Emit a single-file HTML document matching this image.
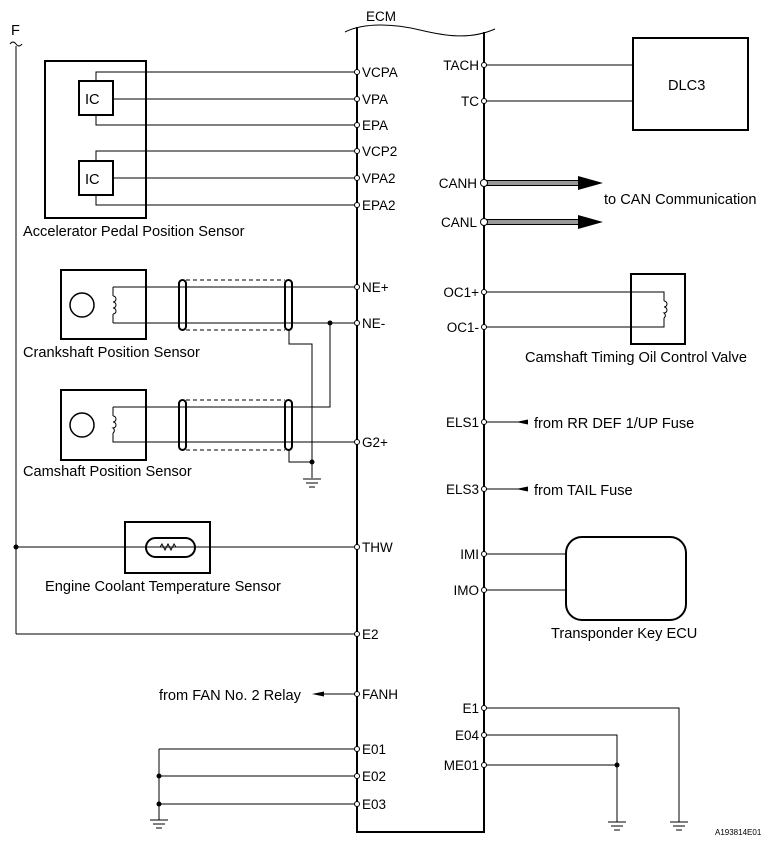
<!DOCTYPE html>
<html><head><meta charset="utf-8"><style>
html,body{margin:0;padding:0;background:#fff;}
svg{display:block;}
text{font-family:"Liberation Sans",Arial,sans-serif;font-size:13.5px;fill:#000;}
.d{font-size:14.6px;}
.l{stroke:#000;stroke-width:1;fill:none;}
.b{stroke:#000;stroke-width:2;fill:none;}
.p{stroke:#000;stroke-width:1;fill:#fff;}
</style></head><body>
<svg width="770" height="847" viewBox="0 0 770 847" xmlns="http://www.w3.org/2000/svg">
<text x="366" y="21">ECM</text>
<path class="l" d="M345 32 C365 22,395 24,420 30 S470 40,495 29"/>
<line class="b" x1="357" y1="27" x2="357" y2="832"/>
<line class="b" x1="484" y1="32" x2="484" y2="832"/>
<line class="b" x1="356" y1="832" x2="485" y2="832"/>
<text x="11" y="35" class="d">F</text>
<path class="l" d="M10 44 q3 -4 6 0 t6 0"/>
<line class="l" x1="16" y1="46" x2="16" y2="634"/>
<line class="l" x1="16" y1="634" x2="357" y2="634"/>
<line class="l" x1="16" y1="547" x2="357" y2="547"/>
<circle cx="16" cy="547" r="2.5" fill="#000"/>
<rect class="b" x="45" y="61" width="101" height="157"/>
<rect class="b" x="79" y="81" width="34" height="34"/>
<rect class="b" x="79" y="161" width="34" height="34"/>
<text x="85" y="104" class="d">IC</text><text x="85" y="184" class="d">IC</text>
<path class="l" d="M96 81 V72 H357 M113 99 H357 M96 115 V125 H357 M96 161 V151 H357 M113 178 H357 M96 195 V205 H357"/>
<text x="23" y="236" class="d">Accelerator Pedal Position Sensor</text>
<rect class="b" x="61" y="270" width="85" height="69"/>
<circle class="l" cx="82" cy="305" r="12" style="stroke-width:1.5"/>
<path class="l" d="M113 287 H357 M113 323 H357 M113 287 V296 M113 314 V323 M113 296 a3 3 0 0 1 0 6 a3 3 0 0 1 0 6 a3 3 0 0 1 0 6"/>
<rect class="b" x="179" y="280" width="7" height="50" rx="3.5"/>
<rect class="b" x="285" y="280" width="7" height="50" rx="3.5"/>
<path class="l" d="M186 280 H285 M186 330 H285" stroke-dasharray="4 3"/>
<text x="23" y="357" class="d">Crankshaft Position Sensor</text>
<circle cx="330" cy="323" r="2.5" fill="#000"/>
<path class="l" d="M330 323 V407 H113 M113 407 V416 M113 433 V442 H357 M113 416 a3 3 0 0 1 0 6 a3 3 0 0 1 0 6 a3 3 0 0 1 0 5"/>
<path class="l" d="M289 330 V344 H312 V478 M289 450 V462 H312"/>
<circle cx="312" cy="462" r="2.5" fill="#000"/>
<path class="l" d="M303 479 H321 M306 483 H318 M309 487 H315"/>
<rect class="b" x="61" y="390" width="85" height="70"/>
<circle class="l" cx="82" cy="425" r="12" style="stroke-width:1.5"/>
<rect class="b" x="179" y="400" width="7" height="50" rx="3.5"/>
<rect class="b" x="285" y="400" width="7" height="50" rx="3.5"/>
<path class="l" d="M186 400 H285 M186 450 H285" stroke-dasharray="4 3"/>
<text x="23" y="476" class="d">Camshaft Position Sensor</text>
<rect class="b" x="125" y="522" width="85" height="51"/>
<rect class="b" x="146" y="538" width="49" height="19" rx="9.5"/>
<path class="l" d="M156 547 h4 l2 -3 l3 6 l3 -6 l3 6 l3 -6 l2 3 h4"/>
<text x="45" y="591" class="d">Engine Coolant Temperature Sensor</text>
<text x="159" y="700" class="d">from FAN No. 2 Relay</text>
<line class="l" x1="316" y1="694" x2="357" y2="694"/>
<path d="M312 694 l12 -2.5 v5 z" fill="#000"/>
<path class="l" d="M159 749 H357 M159 776 H357 M159 804 H357 M159 749 V820"/>
<circle cx="159" cy="776" r="2.5" fill="#000"/><circle cx="159" cy="804" r="2.5" fill="#000"/>
<path class="l" d="M150 820 H168 M153 824 H165 M156 828 H162"/>
<g class="p">
<circle cx="357" cy="72" r="2.5"/><circle cx="357" cy="99" r="2.5"/><circle cx="357" cy="125" r="2.5"/>
<circle cx="357" cy="151" r="2.5"/><circle cx="357" cy="178" r="2.5"/><circle cx="357" cy="205" r="2.5"/>
<circle cx="357" cy="287" r="2.5"/><circle cx="357" cy="323" r="2.5"/><circle cx="357" cy="442" r="2.5"/>
<circle cx="357" cy="547" r="2.5"/><circle cx="357" cy="634" r="2.5"/><circle cx="357" cy="694" r="2.5"/>
<circle cx="357" cy="749" r="2.5"/><circle cx="357" cy="776" r="2.5"/><circle cx="357" cy="804" r="2.5"/>
</g>
<g>
<text x="362" y="77">VCPA</text><text x="362" y="104">VPA</text><text x="362" y="130">EPA</text>
<text x="362" y="156">VCP2</text><text x="362" y="183">VPA2</text><text x="362" y="210">EPA2</text>
<text x="362" y="292">NE+</text><text x="362" y="328">NE-</text><text x="362" y="447">G2+</text>
<text x="362" y="552">THW</text><text x="362" y="639">E2</text><text x="362" y="699">FANH</text>
<text x="362" y="754">E01</text><text x="362" y="781">E02</text><text x="362" y="809">E03</text>
</g>
<rect class="b" x="633" y="38" width="115" height="92"/>
<text x="668" y="90" class="d">DLC3</text>
<path class="l" d="M484 65 H633 M484 101 H633"/>
<path d="M484 180.5 H580 V185.5 H484 Z M484 219.5 H580 V224.5 H484 Z" fill="#999" stroke="#000" stroke-width="1"/>
<path d="M578 176 L603 183 L578 190 Z M578 215 L603 222 L578 229 Z" fill="#000"/>
<text x="604" y="204" class="d">to CAN Communication</text>
<rect class="b" x="631" y="274" width="54" height="70"/>
<path class="l" d="M484 292 H664 V301 M484 327 H664 V318 M664 301 a3 3 0 0 1 0 6 a3 3 0 0 1 0 6 a3 3 0 0 1 0 5"/>
<text x="525" y="362" class="d">Camshaft Timing Oil Control Valve</text>
<line class="l" x1="484" y1="422" x2="526" y2="422"/>
<path d="M516 422 l12 -2.5 v5 z" fill="#000"/>
<text x="534" y="428" class="d">from RR DEF 1/UP Fuse</text>
<line class="l" x1="484" y1="489" x2="526" y2="489"/>
<path d="M516 489 l12 -2.5 v5 z" fill="#000"/>
<text x="534" y="495" class="d">from TAIL Fuse</text>
<rect class="b" x="566" y="537" width="120" height="83" rx="16"/>
<path class="l" d="M484 554 H566 M484 590 H566"/>
<text x="551" y="638" class="d">Transponder Key ECU</text>
<path class="l" d="M484 708 H679 V822 M484 735 H617 V822 M484 765 H617"/>
<circle cx="617" cy="765" r="2.5" fill="#000"/>
<path class="l" d="M608 822 H626 M611 826 H623 M614 830 H620 M670 822 H688 M673 826 H685 M676 830 H682"/>
<g class="p">
<circle cx="484" cy="65" r="2.5"/><circle cx="484" cy="101" r="2.5"/>
<circle cx="484" cy="183" r="3.5"/><circle cx="484" cy="222" r="3.5"/>
<circle cx="484" cy="292" r="2.5"/><circle cx="484" cy="327" r="2.5"/>
<circle cx="484" cy="422" r="2.5"/><circle cx="484" cy="489" r="2.5"/>
<circle cx="484" cy="554" r="2.5"/><circle cx="484" cy="590" r="2.5"/>
<circle cx="484" cy="708" r="2.5"/><circle cx="484" cy="735" r="2.5"/><circle cx="484" cy="765" r="2.5"/>
</g>
<g text-anchor="end">
<text x="479" y="70">TACH</text><text x="479" y="106">TC</text>
<text x="477" y="188">CANH</text><text x="477" y="227">CANL</text>
<text x="479" y="297">OC1+</text><text x="479" y="332">OC1-</text>
<text x="479" y="427">ELS1</text><text x="479" y="494">ELS3</text>
<text x="479" y="559">IMI</text><text x="479" y="595">IMO</text>
<text x="479" y="713">E1</text><text x="479" y="740">E04</text><text x="479" y="770">ME01</text>
</g>
<text x="715" y="835" style="font-size:8px">A193814E01</text>
</svg>
</body></html>
